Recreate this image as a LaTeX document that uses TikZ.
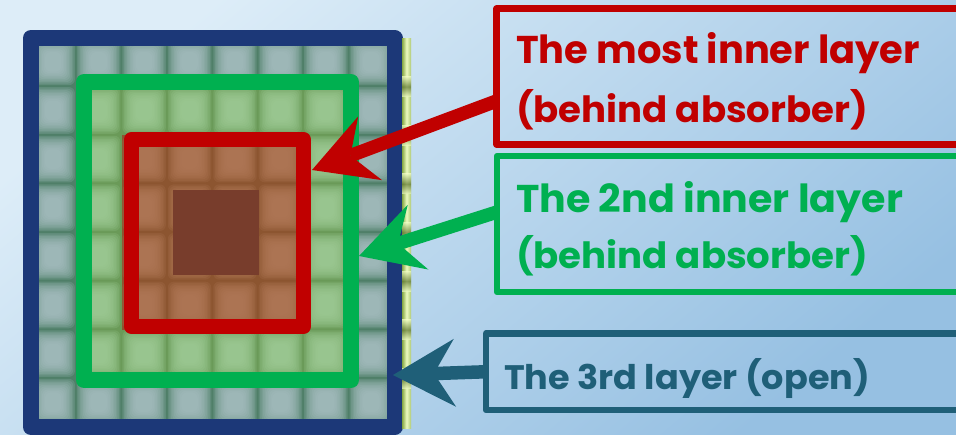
\documentclass[tikz,border=0pt]{standalone}
\usepackage{fontspec}
\newfontfamily\lblfont{Poppins}
\usetikzlibrary{arrows.meta}

\definecolor{bgA}{HTML}{DDEDF8}
\definecolor{bgB}{HTML}{96C0E2}
\definecolor{frameblue}{HTML}{1C3878}
\definecolor{framegreen}{HTML}{00B050}
\definecolor{framered}{HTML}{C00000}
\definecolor{labelteal}{HTML}{1F5F78}
% pixel cells: grout (dark) and centre (light) colours per ring
\definecolor{groutA}{HTML}{4F7F68}
\definecolor{lightA}{HTML}{A8C0C2}
\definecolor{groutB}{HTML}{6A9A58}
\definecolor{lightB}{HTML}{A0CC98}
\definecolor{groutC}{HTML}{8C5530}
\definecolor{lightC}{HTML}{B27A5A}
\definecolor{core}{HTML}{783D2C}
\definecolor{stripdark}{HTML}{86A844}
\definecolor{striplight}{HTML}{ECFAC0}

\newcommand\fitline[3]{\resizebox{#1}{#2}{\lblfont\bfseries #3}}

\begin{document}
\begin{tikzpicture}[x=1pt,y=-1pt,
  frame/.style={draw, line width=16pt, line join=round, inner sep=0pt,
    outer sep=0pt, anchor=north west},
  labelbox/.style={draw, line width=6.5pt, line join=round, inner sep=0pt,
    outer sep=0pt, anchor=north west, minimum width=520pt},
  labeltext/.style={anchor=base west, inner sep=0pt, outer sep=0pt},
  pointer/.style={line width=13.5pt,
    -{Stealth[length=62pt,width=68pt,inset=21pt,line width=0pt]}}]

\useasboundingbox (0,0) rectangle (956,434);
\clip (0,0) rectangle (956,434);

% background
\shade[top color=bgA, bottom color=bgB, shading angle=40] (0,0) rectangle (956,434);

% 8x8 detector pixels with soft edges
\foreach \i in {0,...,7}{
  \foreach \j in {0,...,7}{
    \pgfmathsetmacro\xa{31+\i*45.4375}
    \pgfmathsetmacro\ya{38+\j*48.625}
    \pgfmathtruncatemacro\rr{min(min(\i,\j),min(7-\i,7-\j))}
    \ifcase\rr \def\cg{groutA}\def\cl{lightA}%
    \or \def\cg{groutB}\def\cl{lightB}%
    \else \def\cg{groutC}\def\cl{lightC}\fi
    \fill[\cg] (\xa,\ya) rectangle ++(45.4375,48.625);
    \foreach \k in {1.5,3,...,15}{
      \fill[\cl, fill opacity=0.2, rounded corners=6pt]
        (\xa+\k-1,\ya+\k-1) rectangle (\xa+45.4375-\k,\ya+48.625-\k);
    }
  }
}
% dark core
\fill[core] (173,190) rectangle (259,275);

% layer frames
\node[frame, draw=frameblue, minimum width=363.5pt, minimum height=389pt] (blueframe) at (31,38) {};
\node[frame, draw=framegreen, minimum width=267pt, minimum height=298pt] (greenframe) at (84,82) {};
\node[frame, draw=framered, line width=15pt, minimum width=172pt, minimum height=187pt] (redframe) at (131.5,139.5) {};

% side strip
\shade[left color=stripdark, right color=stripdark!60!striplight, middle color=striplight] (402,38) rectangle (411,428);
\foreach \j in {1,...,7}{
  \shade[top color=striplight, bottom color=striplight, middle color=stripdark!70!black, opacity=0.7]
    (402,{38+\j*48.625-10}) rectangle (411,{38+\j*48.625+10});
}

% label boxes
\node[labelbox, draw=framered, minimum height=136pt] (redbox) at (496.5,8.5) {};
\node[labelbox, draw=framegreen, minimum height=136pt] (greenbox) at (497,156) {};
\node[labelbox, draw=labelteal, minimum height=76.5pt] (tealbox) at (486,333.5) {};

% label texts
\node[labeltext, text=framered] (redA) at (516,63) {\fitline{404pt}{31pt}{The most inner layer}};
\node[labeltext, text=framered] (redB) at (516,122) {\fitline{352pt}{33pt}{(behind absorber)}};
\node[labeltext, text=framegreen] (greenA) at (516,212) {\fitline{387pt}{31pt}{The 2nd inner layer}};
\node[labeltext, text=framegreen] (greenB) at (516,268) {\fitline{352pt}{33pt}{(behind absorber)}};
\node[labeltext, text=labelteal] (tealA) at (504,389) {\fitline{366pt}{31pt}{The 3rd layer (open)}};

% arrow targets
\coordinate (redtip) at (312,170);
\coordinate (greentip) at (359,256);
\coordinate (tealtip) at (393,375);

% pointers
\draw[pointer, framered] ([yshift=-24.5pt]redbox.west) -- (redtip);
\draw[pointer, framegreen] ([yshift=12pt]greenbox.west) -- (greentip);
\draw[pointer, labelteal] (tealbox.west) -- (tealtip);
\end{tikzpicture}
\end{document}
